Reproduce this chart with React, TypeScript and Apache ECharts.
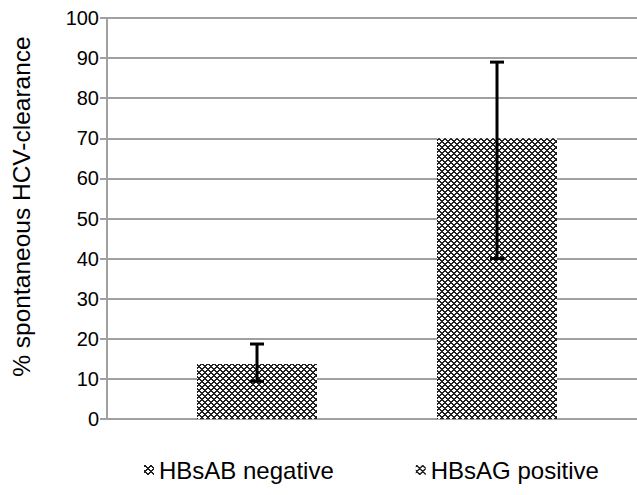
import React, { useEffect, useRef } from "react";
import * as echarts from "echarts";

const categories = [""];
const seriesNames = ["HBsAB negative", "HBsAG positive"];
const barValues = [13.7, 70];
const errLow = [9.4, 40];
const errHigh = [18.7, 89];
const yMin = 0;
const yMax = 100;
const yInterval = 10;

const BAR_WIDTH = 120;
const BAR_GAP = 1; // 100%
const FONT = 'Arial, "Liberation Sans", sans-serif';
const GRID_COLOR = "#a0a0a0";

function makePattern(): any {
  const n = 6;
  const c = document.createElement("canvas");
  c.width = n;
  c.height = n;
  const ctx = c.getContext("2d")!;
  ctx.fillStyle = "#ffffff";
  ctx.fillRect(0, 0, n, n);
  ctx.fillStyle = "#222222";
  for (let x = 0; x < n; x++) {
    for (let y = 0; y < n; y++) {
      const a = (x + y) % n;
      const b = (x - y + 2 * n) % n;
      if (a === 0 || a === 1 || b === 0 || b === 1) ctx.fillRect(x, y, 1, 1);
    }
  }
  return { image: c.toDataURL(), repeat: "repeat", imageWidth: n, imageHeight: n };
}

export default function App() {
  const ref = useRef<HTMLDivElement>(null);
  useEffect(() => {
    if (!ref.current) return;
    const chart = echarts.init(ref.current, null, { renderer: "svg" });
    const pattern = makePattern();
    const span = (BAR_WIDTH * (1 + BAR_GAP)) / 2;
    const errData = seriesNames.map((_, i) => [0, errLow[i], errHigh[i], i === 0 ? -1 : 1]);
    chart.setOption({
      animation: false,
      backgroundColor: "#ffffff",
      grid: { left: 107, width: 540, top: 18, bottom: 76, outerBoundsMode: "none", containLabel: false },
      legend: {
        bottom: 8,
        left: 139,
        itemWidth: 10,
        itemHeight: 10,
        itemGap: 82,
        icon: "rect",
        textStyle: { fontFamily: FONT, fontSize: 24, color: "#000" },
        data: seriesNames,
      },
      xAxis: {
        type: "category",
        data: categories,
        axisLine: { show: false },
        axisTick: { show: false },
        axisLabel: { show: false },
      },
      yAxis: {
        type: "value",
        min: yMin,
        max: yMax,
        interval: yInterval,
        name: "% spontaneous HCV-clearance",
        nameLocation: "middle",
        nameRotate: 90,
        nameGap: 73,
        nameTextStyle: { fontFamily: FONT, fontSize: 24.5, color: "#000", padding: [0, 0, 0, 24] },
        axisLine: { show: true, lineStyle: { color: GRID_COLOR, width: 2 } },
        axisTick: { show: true, inside: false, length: 7, lineStyle: { color: GRID_COLOR, width: 2 } },
        axisLabel: { fontFamily: FONT, fontSize: 20, color: "#000", margin: 8 },
        splitLine: { show: true, lineStyle: { color: GRID_COLOR, width: 2 } },
      },
      series: [
        ...seriesNames.map((name, i) => ({
          name,
          type: "bar",
          data: [barValues[i]],
          barWidth: BAR_WIDTH,
          barGap: `${BAR_GAP * 100}%`,
          itemStyle: { color: pattern },
        })),
        {
          type: "custom",
          name: "err",
          data: errData,
          z: 10,
          renderItem: (params: any, api: any) => {
            const lo = api.coord([api.value(0), api.value(1)]);
            const hi = api.coord([api.value(0), api.value(2)]);
            const x = lo[0] + api.value(3) * span;
            const cap = 7;
            const style = { stroke: "#000", lineWidth: 3 };
            return {
              type: "group",
              children: [
                { type: "line", shape: { x1: x, y1: lo[1], x2: x, y2: hi[1] }, style },
                { type: "line", shape: { x1: x - cap, y1: hi[1], x2: x + cap, y2: hi[1] }, style },
                { type: "line", shape: { x1: x - cap, y1: lo[1], x2: x + cap, y2: lo[1] }, style },
              ],
            };
          },
        },
      ],
    });
    return () => chart.dispose();
  }, []);
  return (
    <div
      ref={ref}
      style={{ position: "fixed", left: 0, top: 0, width: 637, height: 495 }}
    />
  );
}
